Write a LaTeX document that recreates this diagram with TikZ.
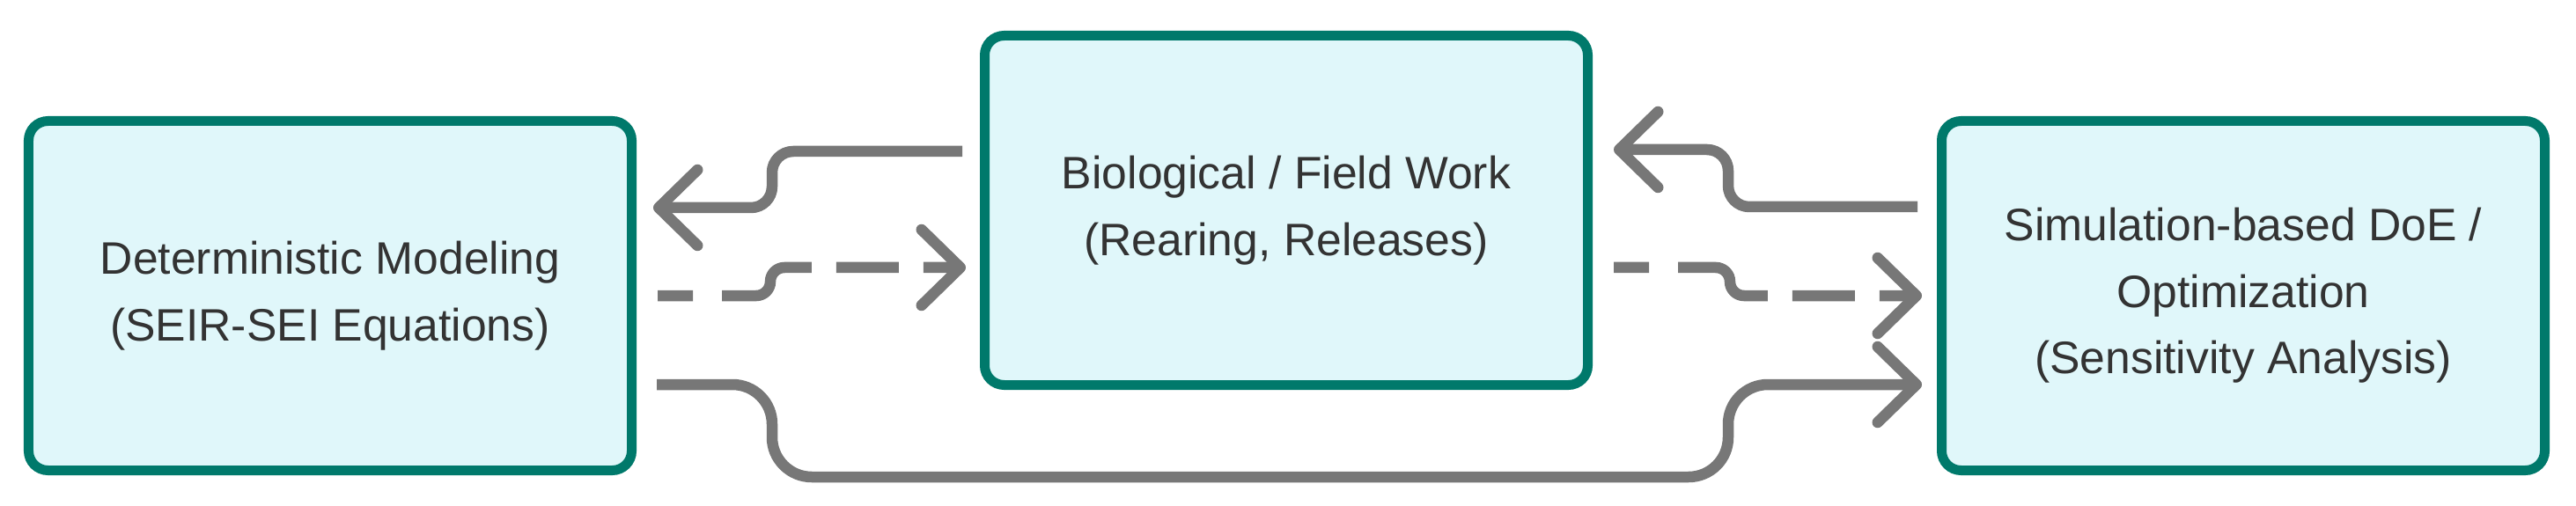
\documentclass[tikz,border=0pt]{standalone}
\usepackage{fontspec}
\setmainfont{Liberation Sans}
\usetikzlibrary{arrows.meta}
\definecolor{boxline}{HTML}{00796B}
\definecolor{boxfill}{HTML}{E0F7FA}
\definecolor{flowgray}{HTML}{777777}
\definecolor{labelgray}{HTML}{333333}

\begin{document}
\begin{tikzpicture}[
  stage/.style={draw=boxline, fill=boxfill, line width=0.11cm, rounded corners=0.22cm,
    minimum width=6.85cm, minimum height=3.97cm, align=center, text=labelgray,
    font=\fontsize{14.7}{21.5}\selectfont, execute at begin node={\rule{0pt}{15.5pt}}},
  flow/.style={draw=flowgray, line width=0.125cm, rounded corners=0.24cm,
    -{Straight Barb[length=4.4mm,width=8.6mm,round]}},
  dashflow/.style={flow, rounded corners=0.16cm,
    dash pattern=on 0.4cm off 0.33cm on 1.2cm off 0.28cm on 0.71cm off 0.28cm on 2cm}
]
\useasboundingbox (0,0) rectangle (29.26,5.74);
\node[stage] (det) at (3.75,2.38) {Deterministic Modeling\\(SEIR-SEI Equations)};
\node[stage] (bio) at (14.61,3.35) {Biological / Field Work\\(Rearing, Releases)};
\node[stage] (sim) at (25.48,2.38) {Simulation-based DoE /\\Optimization\\(Sensitivity Analysis)};
\draw[flow] ([xshift=-2mm,yshift=6.7mm]bio.west) -| ([xshift=15.4mm,yshift=10mm]det.east)
  -- ([xshift=1.9mm,yshift=10mm]det.east);
\draw[dashflow] ([xshift=2.4mm]det.east) -| ([xshift=-23.8mm,yshift=-6.5mm]bio.west)
  -- ([xshift=-1.6mm,yshift=-6.5mm]bio.west);
\draw[flow, rounded corners=0.45cm] ([xshift=2.3mm,yshift=-10.1mm]det.east)
  -| ([xshift=15.4mm,yshift=-20.6mm]det.east) -| ([xshift=-23.7mm,yshift=-10.1mm]sim.west)
  -- ([xshift=-1.7mm,yshift=-10.1mm]sim.west);
\draw[flow] ([xshift=-2.2mm,yshift=10.1mm]sim.west) -| ([xshift=15.4mm,yshift=6.9mm]bio.east)
  -- ([xshift=2.4mm,yshift=6.9mm]bio.east);
\draw[dashflow] ([xshift=2.4mm,yshift=-6.5mm]bio.east) -| ([xshift=-23.5mm]sim.west)
  -- ([xshift=-1.7mm]sim.west);
\end{tikzpicture}
\end{document}
